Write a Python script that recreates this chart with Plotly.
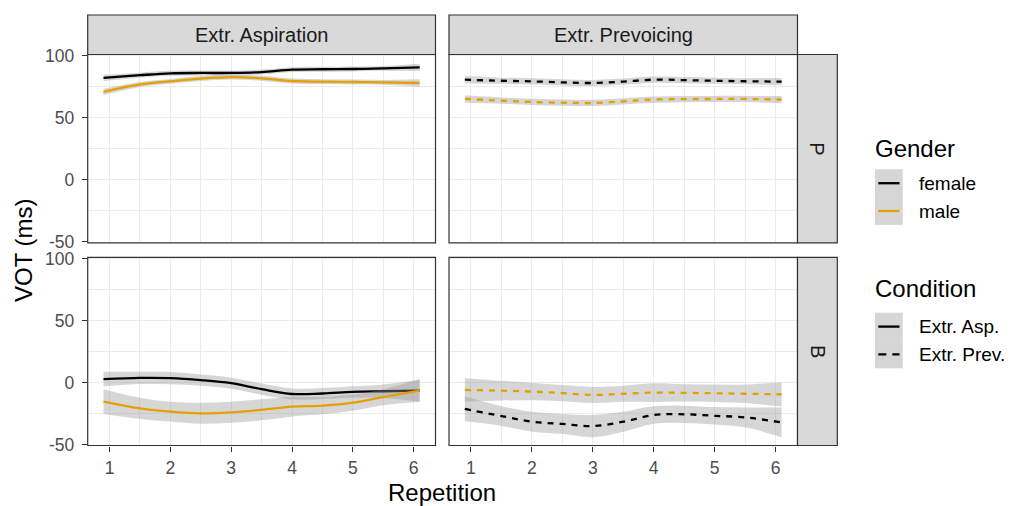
import plotly.graph_objects as go

W, H = 1011, 506

# Smoothed VOT by repetition (x positions of the fitted curve)
repetition = [0.9, 1.5, 2.0, 2.5, 3.0, 3.5, 4.0, 4.5, 5.0, 5.5, 6.1]

# Place P, condition Extr. Aspiration
p_asp_female = [82.3, 84.5, 86.0, 86.3, 86.3, 87.0, 89.0, 89.3, 89.5, 90.0, 90.8]
p_asp_female_se = [2.5, 2.0, 2.0, 2.0, 2.0, 2.0, 2.0, 2.0, 2.0, 2.0, 3.0]
p_asp_male = [71.0, 77.0, 79.5, 81.8, 83.0, 82.0, 79.8, 79.3, 79.0, 78.7, 78.2]
p_asp_male_se = [2.5, 2.0, 2.0, 2.0, 2.0, 2.0, 2.0, 2.0, 2.0, 2.0, 3.0]

# Place P, condition Extr. Prevoicing
p_prev_female = [80.9, 80.0, 79.5, 78.7, 78.2, 79.3, 80.9, 80.5, 80.0, 79.6, 79.3]
p_prev_female_se = [3.0, 2.5, 2.5, 2.5, 2.5, 2.5, 2.5, 2.5, 2.5, 2.5, 3.0]
p_prev_male = [65.3, 64.0, 62.9, 62.3, 62.1, 63.4, 64.8, 65.2, 65.3, 65.3, 64.8]
p_prev_male_se = [3.0, 2.5, 2.5, 2.5, 2.5, 2.5, 2.5, 2.5, 2.5, 2.5, 3.0]

# Place B, condition Extr. Aspiration
b_asp_female = [2.8, 3.8, 3.6, 2.0, -0.5, -5.3, -9.2, -8.8, -7.5, -7.0, -6.5]
b_asp_female_se = [6.0, 5.0, 5.0, 4.5, 4.5, 4.5, 4.5, 4.5, 4.5, 5.5, 9.0]
b_asp_male = [-15.4, -20.8, -23.5, -24.8, -24.0, -22.0, -19.4, -18.6, -16.2, -11.8, -6.5]
b_asp_male_se = [10.0, 8.5, 8.0, 8.5, 8.5, 8.5, 8.0, 7.0, 6.5, 6.5, 9.0]

# Place B, condition Extr. Prevoicing
b_prev_female = [-21.3, -27.0, -31.6, -33.4, -35.1, -31.6, -26.2, -25.6, -26.8, -28.1, -32.2]
b_prev_female_se = [10.0, 8.0, 8.0, 8.0, 9.0, 8.0, 7.0, 7.0, 7.0, 8.0, 12.0]
b_prev_male = [-5.9, -6.5, -7.2, -8.5, -10.0, -9.0, -8.1, -8.3, -8.6, -9.0, -9.5]
b_prev_male_se = [9.5, 8.0, 7.0, 6.5, 6.5, 6.5, 7.5, 7.0, 7.0, 7.5, 9.8]

conditions = ["Extr. Aspiration", "Extr. Prevoicing"]
places = ["P", "B"]
genders = ["female", "male"]
condition_keys = ["Extr. Asp.", "Extr. Prev."]

x_ticks = [1, 2, 3, 4, 5, 6]
x_minor = [1.5, 2.5, 3.5, 4.5, 5.5]
y_ticks = [-50, 0, 50, 100]
y_tick_text = ["-50", "0", "50", "100"]
y_minor = [-25, 25, 75]
X_RANGE = [0.64, 6.36]
Y_RANGE = [-50.8, 101.2]

panels = {
    (0, 0): [(p_asp_female, p_asp_female_se), (p_asp_male, p_asp_male_se)],
    (0, 1): [(p_prev_female, p_prev_female_se), (p_prev_male, p_prev_male_se)],
    (1, 0): [(b_asp_female, b_asp_female_se), (b_asp_male, b_asp_male_se)],
    (1, 1): [(b_prev_female, b_prev_female_se), (b_prev_male, b_prev_male_se)],
}

gender_colors = {"female": "#000000", "male": "#E69F00"}
cond_dash = ["solid", "6px,6px"]
RIBBON = "rgba(153,153,153,0.4)"
GRID = "#EBEBEB"
BORDER = "#333333"
STRIP_FILL = "#D9D9D9"
FONT = "Liberation Sans, Arial, sans-serif"
TICK_FONT = dict(family=FONT, size=17.5, color="#4D4D4D")

# pixel geometry of the facet grid
col_px = [(87.7, 435.5), (449.0, 797.5)]
row_px = [(54.5, 242.8), (257.3, 445.5)]
strip_top = 15.0
strip_right = (797.5, 837.3)


def fx(px):
    return px / W


def fy(py):
    return 1 - py / H


fig = go.Figure()
layout = {}
shapes = []
annotations = []

for (r, c), series in panels.items():
    n = r * 2 + c + 1
    sfx = "" if n == 1 else str(n)
    xa, ya = "x" + sfx, "y" + sfx
    for g, (vals, se) in zip(genders, series):
        lower = [v - s for v, s in zip(vals, se)]
        upper = [v + s for v, s in zip(vals, se)]
        fig.add_trace(go.Scatter(x=repetition, y=lower, xaxis=xa, yaxis=ya, mode="lines",
                                 line=dict(width=0, shape="spline"), showlegend=False,
                                 hoverinfo="skip"))
        fig.add_trace(go.Scatter(x=repetition, y=upper, xaxis=xa, yaxis=ya, mode="lines",
                                 line=dict(width=0, shape="spline"), fill="tonexty",
                                 fillcolor=RIBBON, showlegend=False, hoverinfo="skip"))
        fig.add_trace(go.Scatter(x=repetition, y=vals, xaxis=xa, yaxis=ya, mode="lines",
                                 line=dict(color=gender_colors[g], width=2.3, shape="spline",
                                           dash=cond_dash[c]),
                                 name=f"{g} / {conditions[c]} / {places[r]}", showlegend=False))

    x0, x1 = col_px[c]
    y0, y1 = row_px[r]
    layout["xaxis" + sfx] = dict(
        domain=[fx(x0), fx(x1)], anchor=ya, range=X_RANGE, tickvals=x_ticks,
        showgrid=True, gridcolor=GRID, gridwidth=1.1, zeroline=False, automargin=False,
        minor=dict(tickvals=x_minor, showgrid=True, gridcolor=GRID, gridwidth=0.6),
        showticklabels=(r == 1), ticks="outside" if r == 1 else "",
        ticklen=5, tickwidth=1.1, tickcolor=BORDER, ticklabelstandoff=1,
        tickfont=TICK_FONT, showline=False,
    )
    layout["yaxis" + sfx] = dict(
        domain=[fy(y1), fy(y0)], anchor=xa, range=Y_RANGE, tickvals=y_ticks,
        ticktext=y_tick_text, automargin=False,
        showgrid=True, gridcolor=GRID, gridwidth=1.1, zeroline=False,
        minor=dict(tickvals=y_minor, showgrid=True, gridcolor=GRID, gridwidth=0.6),
        showticklabels=(c == 0), ticks="outside" if c == 0 else "",
        ticklen=5, tickwidth=1.1, tickcolor=BORDER, ticklabelstandoff=4,
        tickfont=TICK_FONT, showline=False,
    )
    # panel border
    shapes.append(dict(type="rect", xref="paper", yref="paper", x0=fx(x0), x1=fx(x1),
                       y0=fy(y1), y1=fy(y0), line=dict(color=BORDER, width=1.2),
                       fillcolor="rgba(0,0,0,0)", layer="above"))

# top strips
for c, label in enumerate(conditions):
    x0, x1 = col_px[c]
    shapes.append(dict(type="rect", xref="paper", yref="paper", x0=fx(x0), x1=fx(x1),
                       y0=fy(row_px[0][0]), y1=fy(strip_top), fillcolor=STRIP_FILL,
                       line=dict(color=BORDER, width=1.2), layer="above"))
    annotations.append(dict(text=label, xref="paper", yref="paper", x=fx((x0 + x1) / 2),
                            y=fy((strip_top + row_px[0][0]) / 2), showarrow=False,
                            xanchor="center", yanchor="middle",
                            font=dict(family=FONT, size=20, color="#1A1A1A")))

# right strips
for r, label in enumerate(places):
    y0, y1 = row_px[r]
    shapes.append(dict(type="rect", xref="paper", yref="paper", x0=fx(strip_right[0]),
                       x1=fx(strip_right[1]), y0=fy(y1), y1=fy(y0), fillcolor=STRIP_FILL,
                       line=dict(color=BORDER, width=1.2), layer="above"))
    annotations.append(dict(text=label, xref="paper", yref="paper",
                            x=fx(sum(strip_right) / 2), y=fy((y0 + y1) / 2), showarrow=False,
                            textangle=90, xanchor="center", yanchor="middle",
                            font=dict(family=FONT, size=20, color="#1A1A1A")))

# axis titles
annotations.append(dict(text="Repetition", xref="paper", yref="paper", x=fx(442), y=fy(492),
                        showarrow=False, xanchor="center", yanchor="middle",
                        font=dict(family=FONT, size=24, color="#000000")))
annotations.append(dict(text="VOT (ms)", xref="paper", yref="paper", x=fx(23), y=fy(250),
                        showarrow=False, textangle=-90, xanchor="center", yanchor="middle",
                        font=dict(family=FONT, size=24, color="#000000")))

# legends drawn as key boxes, sample lines and labels
KEY_X0, KEY_X1 = 875.0, 902.7
LINE_X0, LINE_X1 = 878.3, 899.5
LABEL_X = 916.5
KEY_H = 27.8


def legend_block(title, title_y, top, entries):
    annotations.append(dict(text=title, xref="paper", yref="paper", x=fx(872.5), y=fy(title_y),
                            showarrow=False, xanchor="left", yanchor="middle",
                            font=dict(family=FONT, size=24, color="#000000")))
    for i, (label, color, dash) in enumerate(entries):
        ky0 = top + i * KEY_H
        kc = ky0 + KEY_H / 2
        shapes.append(dict(type="rect", xref="paper", yref="paper", x0=fx(KEY_X0), x1=fx(KEY_X1),
                           y0=fy(ky0 + KEY_H), y1=fy(ky0), fillcolor=RIBBON,
                           line=dict(width=0)))
        shapes.append(dict(type="line", xref="paper", yref="paper", x0=fx(LINE_X0), x1=fx(LINE_X1),
                           y0=fy(kc), y1=fy(kc), line=dict(color=color, width=2.3, dash=dash)))
        annotations.append(dict(text=label, xref="paper", yref="paper", x=fx(LABEL_X), y=fy(kc),
                                showarrow=False, xanchor="left", yanchor="middle",
                                font=dict(family=FONT, size=19, color="#000000")))


legend_block("Gender", 148.5, 169.3,
             [(g, gender_colors[g], "solid") for g in genders])
legend_block("Condition", 288.5, 312.7,
             [(condition_keys[0], "#000000", "solid"), (condition_keys[1], "#000000", "8px,6px")])

fig.update_layout(
    width=W, height=H, margin=dict(l=0, r=0, t=0, b=0, autoexpand=False),
    paper_bgcolor="white", plot_bgcolor="white", showlegend=False,
    shapes=shapes, annotations=annotations, font=dict(family=FONT),
    **layout,
)

fig.write_html("out.html")
